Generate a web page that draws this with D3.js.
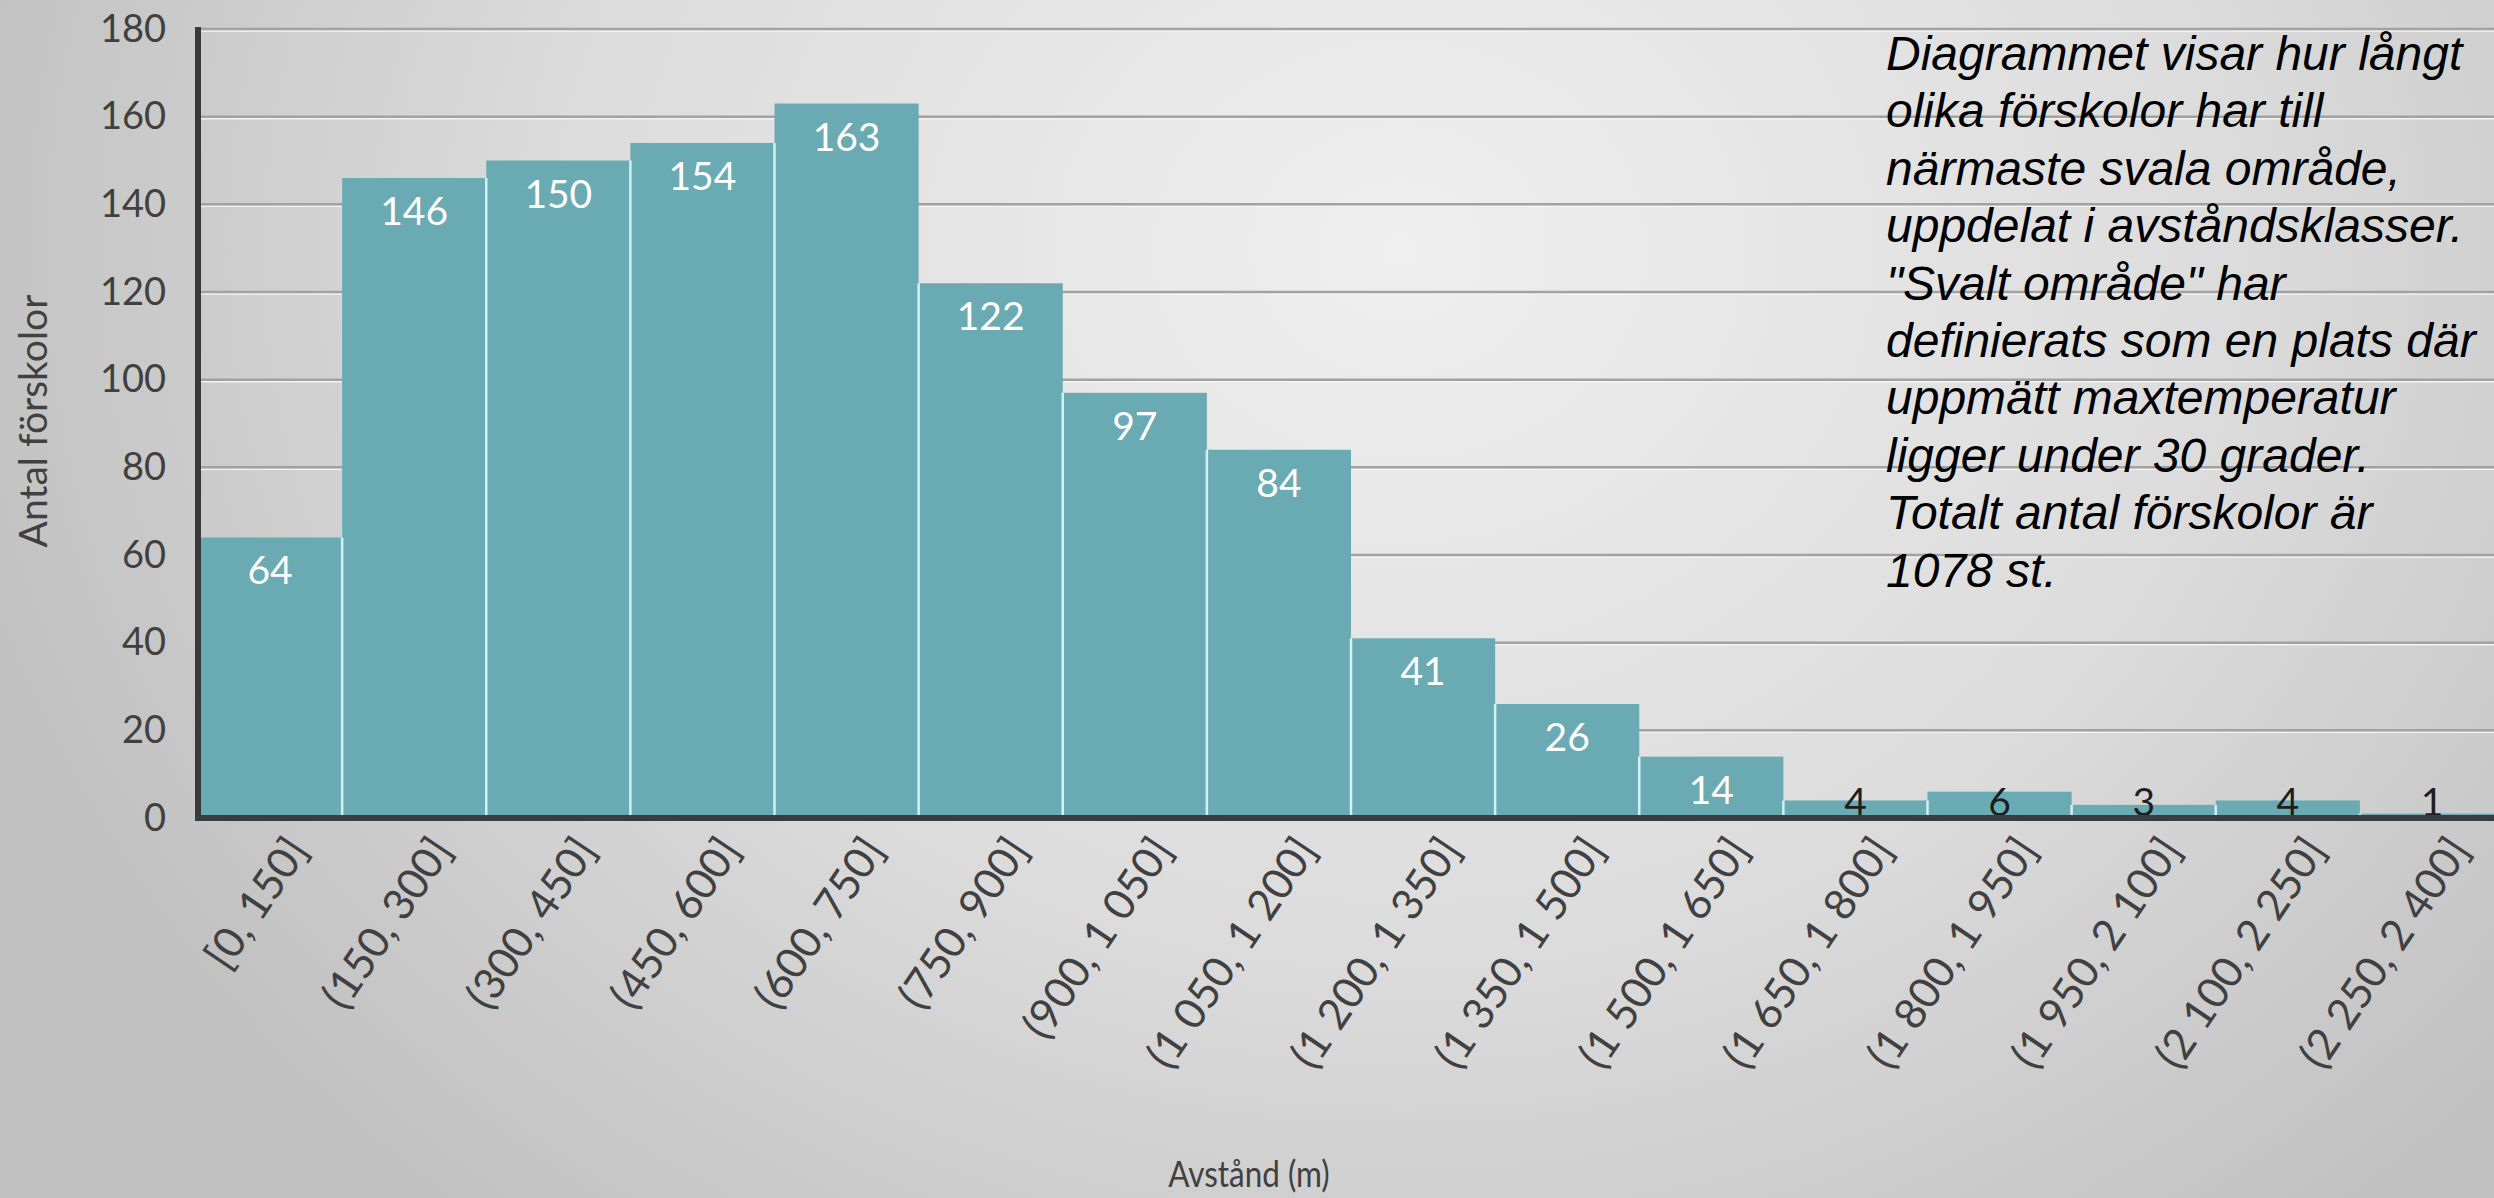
<!DOCTYPE html>
<html>
<head>
<meta charset="utf-8">
<script src="https://cdn.jsdelivr.net/npm/d3@7"></script>
<style>
  html, body { margin: 0; padding: 0; overflow: hidden; }
  svg { display: block; }
</style>
</head>
<body>
<svg id="chart" width="2494" height="1198"></svg>
<script>
const categories = ["[0, 150]", "(150, 300]", "(300, 450]", "(450, 600]", "(600, 750]", "(750, 900]",
  "(900, 1 050]", "(1 050, 1 200]", "(1 200, 1 350]", "(1 350, 1 500]", "(1 500, 1 650]",
  "(1 650, 1 800]", "(1 800, 1 950]", "(1 950, 2 100]", "(2 100, 2 250]", "(2 250, 2 400]"];
const values = [64, 146, 150, 154, 163, 122, 97, 84, 41, 26, 14, 4, 6, 3, 4, 1];
const yTicks = [0, 20, 40, 60, 80, 100, 120, 140, 160, 180];
const yTitle = "Antal förskolor";
const xTitle = "Avstånd (m)";
const noteLines = [
  "Diagrammet visar hur långt",
  "olika förskolor har till",
  "närmaste svala område,",
  "uppdelat i avståndsklasser.",
  "\"Svalt område\" har",
  "definierats som en plats där",
  "uppmätt maxtemperatur",
  "ligger under 30 grader.",
  "Totalt antal förskolor är",
  "1078 st."
];

const W = 2494, H = 1198;
const svg = d3.select("#chart");
const defs = svg.append("defs");
const rg = defs.append("radialGradient").attr("id", "bg")
  .attr("gradientUnits", "userSpaceOnUse")
  .attr("cx", 1400).attr("cy", 250).attr("r", 1500)
  .attr("gradientTransform", "translate(1400,250) scale(1,0.85) translate(-1400,-250)");
rg.append("stop").attr("offset", "0%").attr("stop-color", "#efefef");
rg.append("stop").attr("offset", "55%").attr("stop-color", "#dcdcdc");
rg.append("stop").attr("offset", "100%").attr("stop-color", "#c0c0c0");
svg.append("rect").attr("width", W).attr("height", H).attr("fill", "url(#bg)");

const plotLeft = 198, plotRight = 2504, plotTop = 29, plotBottom = 818;
const x = d3.scaleBand().domain(categories).range([plotLeft, plotRight]).padding(0);
const y = d3.scaleLinear().domain([0, 180]).range([plotBottom, plotTop]);

// gridlines
const grid = svg.append("g");
grid.selectAll("line.g1").data(yTicks.filter(t => t > 0)).join("line")
  .attr("x1", plotLeft).attr("x2", W).attr("y1", d => y(d) + 2).attr("y2", d => y(d) + 2)
  .attr("stroke", "#f4f4f4").attr("stroke-width", 1.5);
grid.selectAll("line.g2").data(yTicks.filter(t => t > 0)).join("line")
  .attr("x1", plotLeft).attr("x2", W).attr("y1", d => y(d)).attr("y2", d => y(d))
  .attr("stroke", "#a2a2a2").attr("stroke-width", 2.5);

// bars
const data = categories.map((c, i) => ({ c, v: values[i], i }));
svg.append("g").selectAll("rect").data(data).join("rect")
  .attr("x", d => x(d.c)).attr("width", x.bandwidth())
  .attr("y", d => y(d.v)).attr("height", d => y(0) - y(d.v))
  .attr("fill", "#6aabb3");

// separators between adjacent bars
svg.append("g").selectAll("line").data(data.slice(1)).join("line")
  .attr("x1", d => x(d.c)).attr("x2", d => x(d.c))
  .attr("y1", d => y(Math.min(d.v, values[d.i - 1]))).attr("y2", y(0))
  .attr("stroke", "#cdf1f5").attr("stroke-width", 2.5);

// value labels
svg.append("g").selectAll("text").data(data).join("text")
  .attr("x", d => x(d.c) + x.bandwidth() / 2)
  .attr("y", d => (y(0) - y(d.v) < 50) ? y(0) - 17 : y(d.v) + 32)
  .attr("text-anchor", "middle").attr("dominant-baseline", "central")
  .attr("font-family", "Lato, 'Open Sans', sans-serif").attr("font-size", 39)
  .attr("fill", d => (y(0) - y(d.v) < 50) ? "#1e1e1e" : "#ffffff")
  .text(d => d.v);

// y axis labels
const yAxis = svg.append("g").attr("transform", `translate(${plotLeft},0)`)
  .call(d3.axisLeft(y).tickValues(yTicks).tickSize(0).tickPadding(32));
yAxis.select(".domain").remove();
yAxis.selectAll("text").attr("font-family", "Lato, sans-serif").attr("font-size", 38).attr("fill", "#404040");

// x axis labels
const xAxis = svg.append("g").attr("transform", `translate(0,${plotBottom})`)
  .call(d3.axisBottom(x).tickSize(0));
xAxis.select(".domain").remove();
xAxis.selectAll("text")
  .attr("x", 0).attr("y", 0).attr("dy", "0.35em")
  .attr("transform", "translate(27,24) rotate(-56)")
  .attr("text-anchor", "end")
  .attr("font-family", "Lato, sans-serif").attr("font-size", 43).attr("fill", "#404040");

// axis lines
svg.append("line").attr("x1", plotLeft).attr("x2", plotLeft).attr("y1", plotTop - 2).attr("y2", plotBottom + 3)
  .attr("stroke", "#3a3a3a").attr("stroke-width", 6);
svg.append("line").attr("x1", plotLeft - 3).attr("x2", W).attr("y1", plotBottom).attr("y2", plotBottom)
  .attr("stroke", "#3a3d3f").attr("stroke-width", 6);

// axis titles
svg.append("text").attr("transform", "translate(32,421) rotate(-90)")
  .attr("text-anchor", "middle").attr("dominant-baseline", "central")
  .attr("font-family", "Lato, sans-serif").attr("font-size", 39).attr("fill", "#404040")
  .text(yTitle);
svg.append("text").attr("transform", "translate(1249,1172) scale(0.85,1)")
  .attr("text-anchor", "middle").attr("dominant-baseline", "central")
  .attr("font-family", "Lato, sans-serif").attr("font-size", 37).attr("fill", "#404040")
  .text(xTitle);

// note
const note = svg.append("text").attr("font-family", "'Liberation Sans', Arial, sans-serif")
  .attr("font-style", "italic").attr("font-size", 48).attr("fill", "#000");
note.selectAll("tspan").data(noteLines).join("tspan")
  .attr("x", 1886).attr("y", (d, i) => 54 + i * 57.4 + 16)
  .text(d => d);
</script>
</body>
</html>
